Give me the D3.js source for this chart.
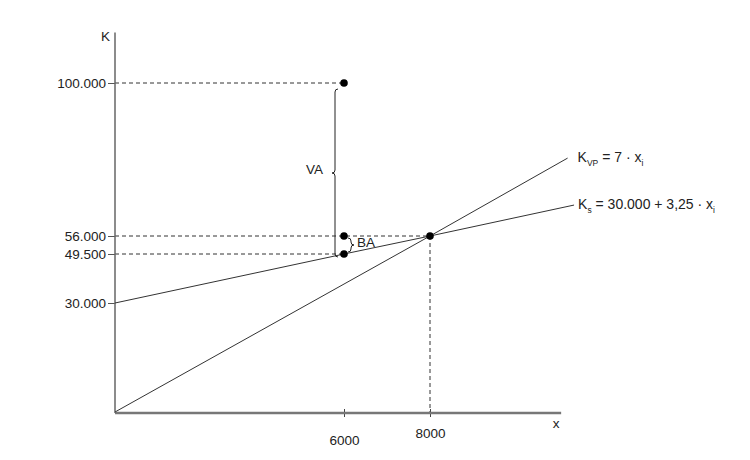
<!DOCTYPE html>
<html>
<head>
<meta charset="utf-8">
<script src="https://cdn.jsdelivr.net/npm/d3@7"></script>
<style>
  html, body { margin: 0; padding: 0; background: #fff; }
  svg { display: block; font-family: "Liberation Sans", Arial, sans-serif; }
</style>
</head>
<body>
<svg id="chart" width="750" height="460"></svg>
<script>
// ---- data ----
const yTickValues = [30000, 49500, 56000, 100000];
const xTickValues = [6000, 8000];
const yDomainMarks = [0, 30000, 49500, 56000, 100000];
const xDomainMarks = [0, 6000, 8000];
const xMax = 11050;
const yMax = 114500;
const kvpLine = [[0, 0], [8000, 56000], [11200, 78400]];
const ksLine = [[0, 30000], [6000, 49500], [8000, 56000], [11350, 64900]];
const dots = [[6000, 100000], [6000, 56000], [6000, 49500], [8000, 56000]];
const hGuides = [[100000, 6000], [56000, 8000], [49500, 6000]];
const vGuides = [[8000, 56000]];
const vaBrace = [100000, 49500, 6000];
const baBrace = [56000, 49500, 6000];

// ---- scales (schematic, piecewise linear) ----
const svg = d3.select("#chart");
const x = d3.scaleLinear().domain(xDomainMarks).range([115, 344, 430]);
const y = d3.scaleLinear().domain(yDomainMarks).range([412, 303, 254, 236, 83]);
const fmtDE = d => d3.format(",")(d).replace(/,/g, ".");
const ink = "#222";

// guides (dashed)
const g = svg.append("g");
g.selectAll("line.h").data(hGuides).join("line")
  .attr("x1", x(0)).attr("x2", d => x(d[1]))
  .attr("y1", d => y(d[0])).attr("y2", d => y(d[0]))
  .attr("stroke", "#333").attr("stroke-width", 1).attr("stroke-dasharray", "4,3");
g.selectAll("line.v").data(vGuides).join("line")
  .attr("x1", d => x(d[0])).attr("x2", d => x(d[0]))
  .attr("y1", d => y(d[1])).attr("y2", y(0))
  .attr("stroke", "#333").attr("stroke-width", 1).attr("stroke-dasharray", "4,3");

// axes
const yAxis = svg.append("g").attr("transform", `translate(${x(0)},0)`)
  .call(d3.axisLeft(y).tickValues(yTickValues).tickFormat(fmtDE).tickSizeInner(7).tickSizeOuter(0).tickPadding(2));
yAxis.select(".domain").remove();
yAxis.selectAll("line").attr("stroke", "#555");
yAxis.selectAll("text").attr("font-size", 13.5).attr("fill", ink).attr("font-family", "Liberation Sans, Arial, sans-serif");
svg.append("line").attr("x1", x(0)).attr("x2", x(0)).attr("y1", y(yMax)).attr("y2", y(0) + 1)
  .attr("stroke", "#666").attr("stroke-width", 1.5);

const xAxis = svg.append("g").attr("transform", `translate(0,${y(0) + 1})`)
  .call(d3.axisBottom(x).tickValues(xTickValues).tickFormat(d => d).tickSizeInner(4).tickSizeOuter(0));
xAxis.select(".domain").remove();
xAxis.selectAll("line").attr("y1", -4).attr("stroke", "#444");
xAxis.selectAll("text").attr("font-size", 13.5).attr("fill", ink)
  .attr("font-family", "Liberation Sans, Arial, sans-serif")
  .attr("y", d => d === 6000 ? 22 : 15).attr("dy", "0.71em");
svg.append("line").attr("x1", x(0)).attr("x2", x(xMax)).attr("y1", y(0) + 1).attr("y2", y(0) + 1)
  .attr("stroke", "#777").attr("stroke-width", 2.5);

// axis titles
svg.append("text").attr("x", x(0) - 5).attr("y", y(yMax) + 8).attr("text-anchor", "end")
  .attr("font-size", 13.5).attr("fill", ink).text("K");
svg.append("text").attr("x", x(xMax) - 5).attr("y", y(0) + 16).attr("text-anchor", "middle")
  .attr("font-size", 13.5).attr("fill", ink).text("x");

// cost lines
const line = d3.line().x(d => x(d[0])).y(d => y(d[1]));
svg.append("path").attr("d", line(kvpLine)).attr("fill", "none").attr("stroke", "#333").attr("stroke-width", 1);
svg.append("path").attr("d", line(ksLine)).attr("fill", "none").attr("stroke", "#333").attr("stroke-width", 1);

// dots
svg.selectAll("circle.dot").data(dots).join("circle")
  .attr("cx", d => x(d[0])).attr("cy", d => y(d[1])).attr("r", 3.8).attr("fill", "#000");

// braces
function bracePath(bx, y0, y1, c) {
  const ym = (y0 + y1) / 2;
  const k = Math.abs(c);
  return `M${bx + c},${y0} Q${bx},${y0} ${bx},${y0 + k} L${bx},${ym - k} Q${bx},${ym} ${bx - c},${ym} ` +
         `Q${bx},${ym} ${bx},${ym + k} L${bx},${y1 - k} Q${bx},${y1} ${bx + c},${y1}`;
}
svg.append("path").attr("d", bracePath(x(vaBrace[2]) - 9, y(vaBrace[0]) + 6, y(vaBrace[1]) + 3, 3))
  .attr("fill", "none").attr("stroke", "#222").attr("stroke-width", 1);
svg.append("path").attr("d", bracePath(x(baBrace[2]) + 7, y(baBrace[0]) + 2, y(baBrace[1]) - 2, -3))
  .attr("fill", "none").attr("stroke", "#222").attr("stroke-width", 1);
svg.append("text").attr("x", x(vaBrace[2]) - 21).attr("y", (y(vaBrace[0]) + y(vaBrace[1])) / 2 + 1)
  .attr("dy", "0.35em").attr("text-anchor", "end").attr("font-size", 13.5).attr("fill", ink).text("VA");
svg.append("text").attr("x", x(baBrace[2]) + 13).attr("y", (y(baBrace[0]) + y(baBrace[1])) / 2 - 3)
  .attr("dy", "0.35em").attr("font-size", 13.5).attr("fill", ink).text("BA");

// equation labels
const kvpEnd = kvpLine[kvpLine.length - 1];
const ksEnd = ksLine[ksLine.length - 1];
const t1 = svg.append("text").attr("x", x(kvpEnd[0]) + 10).attr("y", y(kvpEnd[1]) + 4)
  .attr("font-size", 14).attr("fill", ink);
t1.append("tspan").text("K");
t1.append("tspan").attr("font-size", 8.5).attr("dy", 4).text("VP");
t1.append("tspan").attr("dy", -4).text(" = 7 · x");
t1.append("tspan").attr("font-size", 8.5).attr("dy", 4).text("i");

const t2 = svg.append("text").attr("x", x(ksEnd[0]) + 4).attr("y", y(ksEnd[1]) + 4)
  .attr("font-size", 14).attr("fill", ink);
t2.append("tspan").text("K");
t2.append("tspan").attr("font-size", 8.5).attr("dy", 4).text("s");
t2.append("tspan").attr("dy", -4).text(" = 30.000 + 3,25 · x");
t2.append("tspan").attr("font-size", 8.5).attr("dy", 4).text("i");
</script>
</body>
</html>
